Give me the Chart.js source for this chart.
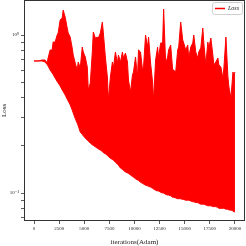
<!DOCTYPE html>
<html><head><meta charset="utf-8">
<script src="https://cdn.jsdelivr.net/npm/chart.js@4/dist/chart.umd.min.js"></script>
<style>html,body{margin:0;padding:0;background:#fff}canvas{display:block}</style>
</head><body>
<canvas id="c" width="246" height="246"></canvas>
<script>
const iterations = [0,400,800,1100,1300,1400,1600,1800,1900,2100,2300,2400,2600,2800,2900,3100,3300,3400,3600,3800,3900,4100,4300,4400,4600,4800,4900,5100,5300,5400,5600,5800,5900,6100,6300,6400,6600,6800,6900,7100,7300,7400,7600,7800,7900,8100,8300,8400,8600,8800,8900,9100,9300,9400,9600,9800,9900,10100,10300,10400,10600,10800,10900,11100,11300,11400,11600,11800,11900,12100,12300,12400,12600,12800,12900,13100,13300,13400,13600,13800,13900,14100,14300,14400,14600,14800,14900,15100,15300,15400,15600,15800,15900,16100,16300,16400,16600,16800,16900,17100,17300,17400,17600,17800,17900,18100,18300,18400,18600,18800,18900,19100,19300,19400,19600,19800,19900,20000];
const lossPeaks = [0.685,0.685,0.695,0.695,0.665,0.715,0.804,0.804,0.903,0.903,1.0,1.03,1.244,1.281,1.439,1.3,1.107,1.03,0.971,0.827,0.747,0.665,0.6,0.675,0.618,0.839,0.781,0.726,0.627,0.449,0.497,0.781,1.045,0.957,0.971,0.957,1.03,1.208,1.03,0.726,0.542,0.388,0.542,0.675,0.618,0.781,0.665,0.747,0.675,0.781,0.715,0.769,0.675,0.519,0.436,0.558,0.583,0.726,0.542,0.804,0.781,0.6,0.627,1.0,0.839,0.971,0.665,0.504,0.388,0.695,0.839,0.715,0.89,0.89,1.461,0.665,0.726,0.804,0.864,0.6,0.6,0.583,0.804,0.839,1.208,0.93,0.89,0.804,0.864,0.715,0.839,0.89,1.0,0.781,0.715,0.781,0.827,1.107,0.89,0.646,0.903,0.827,0.957,0.747,0.646,0.675,0.715,0.646,0.627,0.534,0.618,0.971,0.542,0.469,0.399,0.583,0.558,0.583];
const lossFloors = [0.685,0.685,0.685,0.675,0.65,0.636,0.6,0.575,0.563,0.534,0.508,0.497,0.476,0.449,0.439,0.417,0.393,0.382,0.361,0.335,0.321,0.296,0.276,0.266,0.243,0.235,0.23,0.223,0.216,0.213,0.207,0.202,0.2,0.196,0.192,0.19,0.187,0.183,0.18,0.177,0.173,0.17,0.166,0.163,0.161,0.157,0.152,0.15,0.144,0.141,0.139,0.136,0.134,0.133,0.13,0.127,0.126,0.123,0.121,0.12,0.117,0.115,0.114,0.112,0.111,0.11,0.109,0.107,0.106,0.104,0.103,0.103,0.101,0.1,0.1,0.098,0.097,0.097,0.096,0.094,0.094,0.093,0.092,0.092,0.092,0.091,0.091,0.09,0.09,0.09,0.089,0.088,0.088,0.087,0.087,0.086,0.085,0.085,0.085,0.084,0.083,0.083,0.083,0.082,0.082,0.082,0.081,0.08,0.08,0.08,0.08,0.079,0.079,0.078,0.078,0.077,0.076,0.076];
const xTickValues = [0,2500,5000,7500,10000,12500,15000,17500,20000];
const yTickValues = [0.07,0.08,0.09,0.1,0.2,0.3,0.4,0.5,0.6,0.7,0.8,0.9,1];
const yTickLabels = {"0.1":"10\u207B\u00B9","1":"10\u2070"};
const seriesLabel = "Loss";
const xTitle = "iterations(Adam)";
const yTitle = "Loss";

const n = Math.min(iterations.length, lossPeaks.length, lossFloors.length);
const peakPts = [], floorPts = [];
for (let i = 0; i < n; i++) {
  peakPts.push({x: iterations[i], y: lossPeaks[i]});
  floorPts.push({x: iterations[i], y: lossFloors[i]});
}

const SERIF = "'Liberation Serif', 'DejaVu Serif', serif";

const framePlugin = {
  id: 'frame',
  afterDraw(chart) {
    const {ctx, chartArea: a} = chart;
    ctx.save();
    ctx.strokeStyle = '#333';
    ctx.lineWidth = 1;
    ctx.strokeRect(Math.round(a.left) + 0.5, Math.round(a.top) + 0.5, Math.round(a.right - a.left) - 1, Math.round(a.bottom - a.top) - 1);
    const w = 30, h = 12;
    const x0 = Math.round(a.right) - w - 3, y0 = Math.round(a.top) + 2;
    ctx.beginPath();
    ctx.roundRect(x0 + 0.5, y0 + 0.5, w, h, 2);
    ctx.fillStyle = 'rgba(255,255,255,0.85)';
    ctx.fill();
    ctx.strokeStyle = '#cfcfcf';
    ctx.lineWidth = 1;
    ctx.stroke();
    ctx.beginPath();
    ctx.moveTo(x0 + 3, y0 + h / 2 + 0.5);
    ctx.lineTo(x0 + 13, y0 + h / 2 + 0.5);
    ctx.strokeStyle = '#ff0000';
    ctx.lineWidth = 1.5;
    ctx.stroke();
    ctx.fillStyle = '#222';
    ctx.font = "italic 6px " + SERIF;
    ctx.textBaseline = 'middle';
    ctx.textAlign = 'left';
    ctx.fillText(seriesLabel, x0 + 16, y0 + h / 2 + 0.5);
    ctx.restore();
  }
};

new Chart(document.getElementById('c'), {
  type: 'line',
  data: {
    datasets: [{
      label: seriesLabel,
      data: peakPts,
      borderColor: '#ff0000',
      backgroundColor: '#ff0000',
      borderWidth: 1,
      pointRadius: 0,
      tension: 0,
      fill: '+1'
    }, {
      label: seriesLabel,
      data: floorPts,
      borderColor: '#ff0000',
      backgroundColor: '#ff0000',
      borderWidth: 1,
      pointRadius: 0,
      tension: 0,
      fill: false
    }]
  },
  options: {
    responsive: false,
    animation: false,
    devicePixelRatio: 1,
    layout: {padding: {top: 0, right: 1, left: 0, bottom: 0}},
    plugins: {legend: {display: false}, tooltip: {enabled: false}, filler: {propagate: false}},
    scales: {
      x: {
        type: 'linear',
        min: -1000,
        max: 21000,
        afterBuildTicks(s) { s.ticks = xTickValues.map(v => ({value: v})); },
        afterFit(s) { s.height = 25; s.paddingLeft = 0; s.paddingRight = 0; },
        border: {display: false},
        grid: {drawOnChartArea: false, drawTicks: true, tickLength: 3, tickColor: '#333', tickWidth: 0.8},
        ticks: {padding: 2, maxRotation: 0, autoSkip: false, color: '#222', font: {family: SERIF, size: 5}, callback: v => String(v)},
        title: {display: true, text: xTitle, color: '#222', font: {family: SERIF, size: 7}, padding: 0}
      },
      y: {
        type: 'logarithmic',
        min: 0.0665,
        max: 1.666,
        afterBuildTicks(s) { s.ticks = yTickValues.map(v => ({value: v})); },
        afterFit(s) { s.width = 24; s.paddingTop = 0; s.paddingBottom = 0; },
        border: {display: false},
        grid: {drawOnChartArea: false, drawTicks: true, tickLength: 3, tickColor: '#333', tickWidth: 0.8},
        ticks: {padding: 2, autoSkip: false, color: '#222', font: {family: SERIF, size: 5},
          callback: v => yTickLabels[String(+v.toPrecision(3))] || ''},
        title: {display: true, text: yTitle, color: '#222', font: {family: SERIF, size: 7}, padding: 0}
      }
    }
  },
  plugins: [framePlugin]
});
</script>
</body></html>
